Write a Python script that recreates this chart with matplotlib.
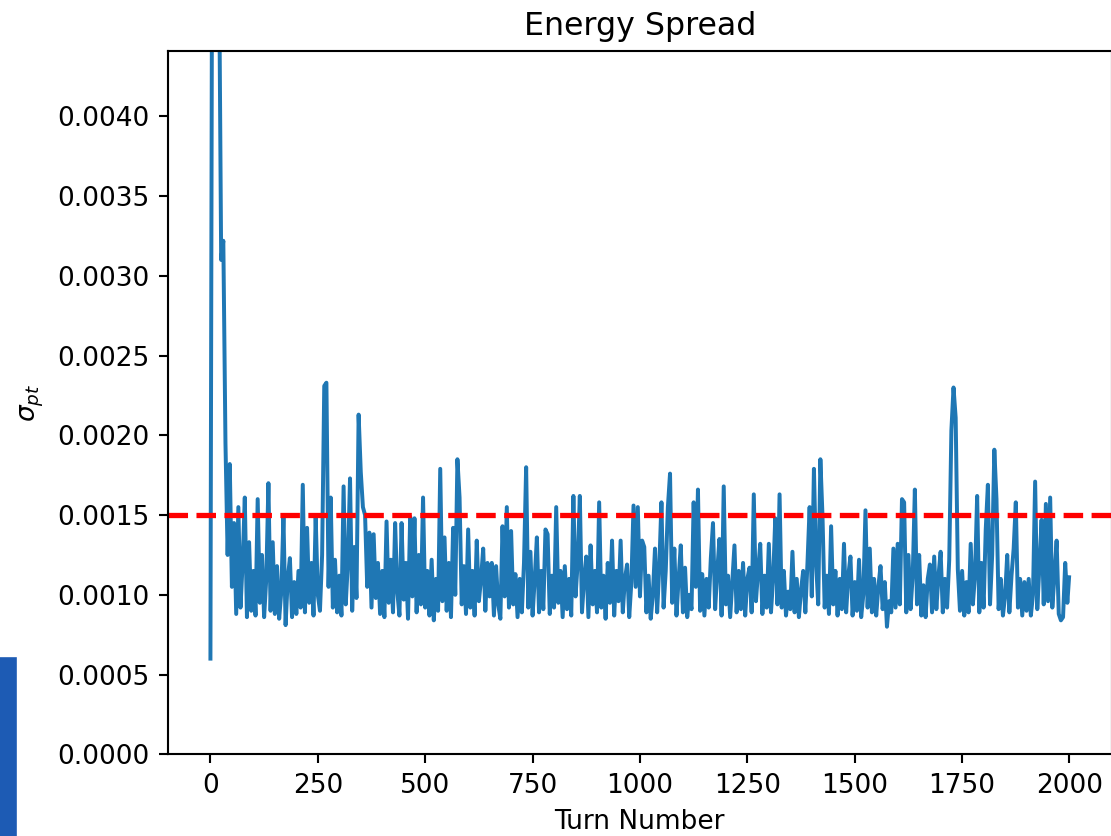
import numpy as np
import matplotlib
matplotlib.use('Agg')
import matplotlib.pyplot as plt
from matplotlib.patches import Rectangle

# turn numbers (every 5th turn, plus the last one)
turns = list(range(0, 2000, 5)) + [1999]

# energy spread sigma_pt, in units of 1e-3
sigma_e3 = [
    0.60, 6.50, 6.80, 6.20, 5.00, 3.10, 3.22, 1.95, 1.25, 1.82,
    1.05, 1.45, 0.88, 1.55, 0.92, 1.20, 1.61, 0.86, 1.33, 0.90,
    1.15, 0.87, 1.60, 0.95, 1.25, 0.86, 1.10, 1.70, 0.90, 1.33,
    0.88, 1.18, 0.85, 1.02, 1.49, 0.81, 1.10, 1.23, 0.86, 1.08,
    0.88, 1.15, 0.92, 1.69, 0.89, 1.42, 0.95, 1.20, 0.87, 1.49,
    1.00, 0.90, 1.25, 2.31, 2.33, 1.05, 1.61, 0.92, 1.22, 0.89,
    1.12, 0.87, 1.68, 0.94, 1.20, 1.73, 0.90, 1.30, 0.98, 2.13,
    1.77, 1.55, 1.50, 1.05, 1.39, 0.92, 1.38, 0.98, 1.20, 0.88,
    1.15, 0.86, 1.46, 0.95, 1.22, 0.89, 1.45, 1.02, 0.87, 1.45,
    0.97, 1.20, 0.85, 1.49, 0.99, 1.48, 0.89, 1.25, 0.94, 1.61,
    0.92, 1.15, 0.87, 1.22, 0.84, 1.10, 0.90, 1.79, 0.96, 1.36,
    0.90, 1.20, 0.86, 1.42, 1.00, 1.85, 1.61, 0.94, 1.18, 0.88,
    1.41, 0.92, 1.15, 0.87, 1.34, 0.96, 1.10, 1.29, 0.90, 1.20,
    0.99, 1.20, 0.87, 1.18, 0.94, 0.85, 1.43, 0.99, 1.55, 0.92,
    1.40, 0.94, 1.13, 0.86, 1.10, 0.89, 1.20, 1.80, 0.92, 1.27,
    0.87, 1.10, 1.36, 0.89, 1.15, 0.91, 1.41, 1.38, 0.88, 1.12,
    0.92, 1.55, 0.95, 1.15, 0.86, 1.18, 0.91, 1.10, 0.87, 1.62,
    0.99, 1.20, 1.62, 0.89, 1.10, 1.24, 0.86, 1.31, 0.94, 1.15,
    0.89, 1.58, 0.92, 1.12, 0.85, 1.20, 0.95, 1.34, 0.87, 1.15,
    0.96, 1.34, 0.89, 1.10, 1.19, 0.86, 1.08, 1.56, 1.05, 1.55,
    0.99, 1.34, 1.30, 0.89, 1.12, 0.85, 1.00, 1.29, 0.89, 1.18,
    1.58, 0.92, 1.15, 1.55, 1.76, 0.95, 1.29, 0.87, 1.10, 1.31,
    0.89, 1.17, 0.86, 1.00, 0.91, 1.58, 1.05, 1.66, 0.90, 1.13,
    0.87, 1.10, 0.92, 1.23, 1.45, 0.91, 1.15, 1.35, 0.87, 1.68,
    0.94, 1.12, 0.86, 1.08, 1.31, 0.89, 1.15, 0.91, 1.20, 0.87,
    1.10, 1.17, 0.89, 1.63, 0.96, 1.15, 1.32, 0.88, 1.12, 0.92,
    1.32, 0.89, 1.10, 1.48, 0.94, 1.63, 0.92, 1.15, 0.87, 1.02,
    0.91, 1.27, 0.89, 1.10, 0.86, 1.03, 1.15, 0.89, 1.20, 1.55,
    0.99, 1.79, 1.20, 0.94, 1.85, 1.49, 0.92, 1.12, 0.88, 1.43,
    0.94, 1.15, 0.87, 1.10, 0.91, 1.32, 0.89, 1.12, 1.24, 0.87,
    1.08, 0.90, 1.22, 0.86, 1.00, 1.53, 0.92, 1.29, 0.89, 1.10,
    0.87, 1.05, 1.18, 0.91, 1.08, 0.80, 0.96, 0.89, 1.29, 0.92,
    1.32, 0.94, 1.60, 1.58, 0.89, 1.25, 0.91, 1.12, 1.66, 0.94,
    1.25, 0.87, 1.06, 0.86, 1.10, 1.19, 0.89, 1.24, 0.91, 1.12,
    1.27, 0.89, 1.10, 0.92, 1.22, 2.03, 2.30, 2.11, 1.16, 0.90,
    1.15, 0.87, 1.08, 0.89, 1.32, 0.94, 1.12, 1.62, 0.89, 1.20,
    0.92, 1.41, 1.69, 0.94, 1.25, 1.91, 1.60, 0.91, 1.10, 0.87,
    0.99, 1.25, 0.89, 1.12, 1.29, 1.58, 0.92, 1.10, 0.87, 1.08,
    0.90, 1.10, 0.87, 1.00, 1.71, 0.91, 1.18, 1.47, 0.94, 1.57,
    0.96, 1.61, 0.92, 1.12, 1.34, 0.88, 0.84, 0.86, 1.20, 0.95,
    1.11,
]
sigma_pt = np.array(sigma_e3) * 1e-3

threshold = 0.0015

W, H, DPI = 1111, 836, 190
fig = plt.figure(figsize=(W / DPI, H / DPI), dpi=DPI)
ax = fig.add_axes([167.5 / W, 1 - 754.3 / H, (1112 - 167.5) / W, (754.3 - 51) / H])

ax.plot(turns, sigma_pt)
ax.axhline(threshold, color='r', linestyle='--', lw=2)
ax.set_ylim(0, 0.00441)
ax.set_xlabel('Turn Number')
ax.set_ylabel(r'$\sigma_{pt}$')
ax.set_title('Energy Spread')

# blue strip at the lower left edge of the screenshot
fig.patches.append(Rectangle((0, 0), 15 / W, (836 - 658) / H, transform=fig.transFigure,
                             color='#1d5bb4', zorder=0))

fig.savefig('out.png', dpi=DPI)
